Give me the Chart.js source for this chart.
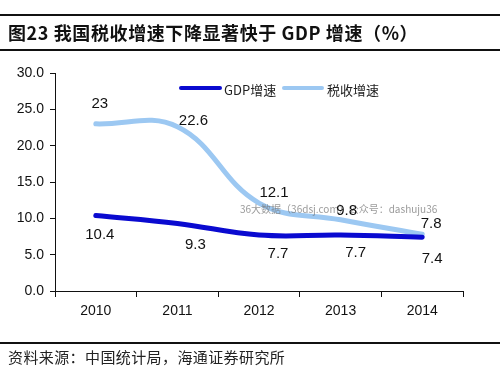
<!DOCTYPE html>
<html>
<head>
<meta charset="utf-8">
<script src="https://cdn.jsdelivr.net/npm/chart.js@4.4.1/dist/chart.umd.min.js"></script>
<style>
  html, body { margin: 0; padding: 0; background: #fff; }
  #wrap { width: 500px; height: 371px; position: relative; }
</style>
</head>
<body>
<div id="wrap"><canvas id="chart" width="500" height="371"></canvas></div>
<script>
// data
const years = ['2010', '2011', '2012', '2013', '2014'];
const gdpGrowth = [10.4, 9.3, 7.7, 7.7, 7.4];
const taxGrowth = [23, 22.6, 12.1, 9.8, 7.8];
const gdpLabels = ['10.4', '9.3', '7.7', '7.7', '7.4'];
const taxLabels = ['23', '22.6', '12.1', '9.8', '7.8'];

const titleText = '图23 我国税收增速下降显著快于 GDP 增速（%）';
const sourceText = '资料来源：中国统计局，海通证券研究所';
const watermark = '36大数据（36dsj.com）公众号：dashuju36';

const GDP_COLOR = '#0a0ad0';
const TAX_COLOR = '#9cc8f2';
const LATIN = '"Liberation Sans", Arial, sans-serif';
const CJK = '"Noto Sans CJK SC", sans-serif';

// label nudges relative to each point (px)
const taxNudge = [[4, -20], [16, -6], [15, -10], [6, -9], [9, -10]];
const gdpNudge = [[4, 19], [18, 21], [19, 19], [15, 18], [10, 22]];

const decor = {
  id: 'decor',
  beforeDraw(chart) {
    const c = chart.ctx;
    c.save();
    c.fillStyle = '#fff';
    c.fillRect(0, 0, chart.width, chart.height);
    c.restore();
  },
  afterDatasetsDraw(chart) {
    const c = chart.ctx;
    c.save();
    // rules
    c.fillStyle = '#111';
    c.fillRect(0, 14, 500, 2);
    c.fillRect(0, 49, 500, 2);
    c.fillRect(0, 342, 500, 2);

    // title
    c.fillStyle = '#111';
    c.textBaseline = 'middle';
    c.textAlign = 'left';
    c.font = 'bold 18px ' + CJK;
    c.letterSpacing = '0.6px';
    c.fillText(titleText, 8, 33);

    // source
    c.font = '15px ' + CJK;
    c.letterSpacing = '0.4px';
    c.fillStyle = '#222';
    c.fillText(sourceText, 8, 357);
    c.letterSpacing = '0px';

    // legend
    c.lineCap = 'round';
    c.lineWidth = 4;
    c.strokeStyle = GDP_COLOR;
    c.beginPath(); c.moveTo(181, 88); c.lineTo(220, 88); c.stroke();
    c.strokeStyle = TAX_COLOR;
    c.beginPath(); c.moveTo(284, 88); c.lineTo(322, 88); c.stroke();
    c.fillStyle = '#222';
    c.font = '13px ' + CJK;
    c.fillText('GDP增速', 224, 90);
    c.fillText('税收增速', 327, 90);

    // watermark
    c.font = '10px ' + CJK;
    c.fillStyle = 'rgba(120,120,120,0.75)';
    c.fillText(watermark, 240, 209);

    // data labels
    c.font = '15px ' + LATIN;
    c.fillStyle = '#111';
    c.textAlign = 'center';
    const mGdp = chart.getDatasetMeta(0).data;
    const mTax = chart.getDatasetMeta(1).data;
    mTax.forEach((p, i) => {
      c.fillText(taxLabels[i], p.x + taxNudge[i][0], p.y + taxNudge[i][1]);
    });
    mGdp.forEach((p, i) => {
      c.fillText(gdpLabels[i], p.x + gdpNudge[i][0], p.y + gdpNudge[i][1]);
    });
    c.restore();
  }
};

const chart = new Chart('chart', {
  type: 'line',
  data: {
    labels: years,
    datasets: [{
      label: 'GDP增速',
      data: gdpGrowth,
      borderColor: GDP_COLOR,
      borderWidth: 5,
      tension: 0.4,
      pointRadius: 0,
      borderCapStyle: 'round'
    }, {
      label: '税收增速',
      data: taxGrowth,
      borderColor: TAX_COLOR,
      borderWidth: 5,
      tension: 0.4,
      pointRadius: 0,
      borderCapStyle: 'round'
    }]
  },
  options: {
    responsive: false,
    animation: false,
    events: [],
    layout: { padding: { top: 73, left: 0, right: 37, bottom: 0 } },
    plugins: { legend: { display: false }, tooltip: { enabled: false } },
    scales: {
      x: {
        offset: true,
        grid: { offset: true, drawOnChartArea: false, tickLength: 6, color: '#111' },
        border: { color: '#111', width: 1 },
        ticks: { color: '#111', font: { family: LATIN, size: 14 }, padding: 6 },
        afterFit: (s) => { s.height = 80; }
      },
      y: {
        min: 0,
        max: 30,
        ticks: {
          stepSize: 5,
          color: '#111',
          font: { family: LATIN, size: 14 },
          padding: 6,
          callback: (v) => v.toFixed(1)
        },
        grid: { drawOnChartArea: false, tickLength: 5, color: '#111' },
        border: { color: '#111', width: 1 },
        afterFit: (s) => { s.width = 55; }
      }
    }
  },
  plugins: [decor]
});
</script>
</body>
</html>
